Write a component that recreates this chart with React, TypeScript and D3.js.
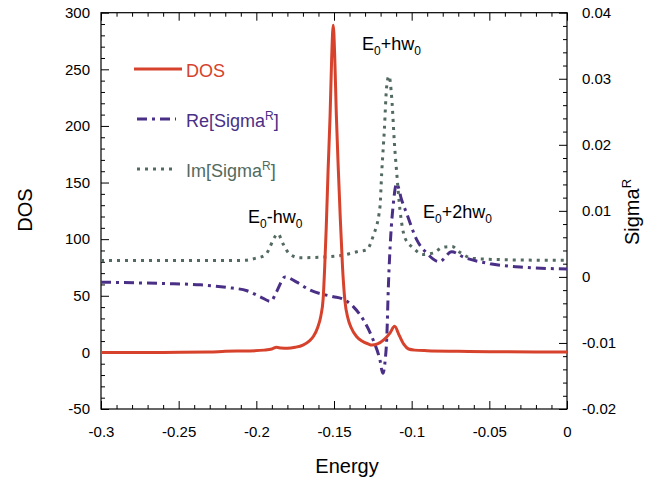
import React, { useEffect, useRef } from 'react';
import * as d3 from 'd3';

// DOS (left axis)
const dosEnergy = [-0.3, -0.26, -0.23, -0.22, -0.205, -0.195, -0.19, -0.187, -0.184, -0.18, -0.175, -0.17, -0.166, -0.1633, -0.1605, -0.1585, -0.157, -0.156, -0.155, -0.1538, -0.1525, -0.1515, -0.1505, -0.1495, -0.1485, -0.1472, -0.146, -0.1445, -0.143, -0.141, -0.139, -0.1355, -0.132, -0.128, -0.1257, -0.122, -0.118, -0.114, -0.111, -0.108, -0.105, -0.102, -0.098, -0.09, -0.07, -0.05, -0.02, 0];
const dosValues = [0, 0, 0.3, 1, 1.3, 2, 3, 4.5, 3.8, 3.6, 4.5, 6.5, 10, 14, 22, 32, 47, 75, 110, 161, 210, 260, 289, 260, 210, 161, 120, 75, 46, 30, 22, 14, 10, 7.5, 6.5, 7.5, 11, 17, 23, 15, 7, 3, 2, 1.5, 1, 0.6, 0.3, 0.3];

// Re[Sigma^R] (right axis)
const reEnergy = [-0.3, -0.26, -0.236, -0.219, -0.206, -0.1976, -0.1907, -0.1869, -0.1815, -0.174, -0.1654, -0.1504, -0.145, -0.1376, -0.1311, -0.1247, -0.1204, -0.1186, -0.117, -0.116, -0.115, -0.1135, -0.1118, -0.1097, -0.1064, -0.1032, -0.0967, -0.0903, -0.0822, -0.0742, -0.0667, -0.0495, -0.0302, 0];
const reValues = [-0.0008, -0.001, -0.0012, -0.0016, -0.0021, -0.003, -0.0037, -0.0022, 0.0, -0.0008, -0.002, -0.003, -0.0033, -0.0045, -0.0065, -0.0096, -0.0126, -0.0146, -0.0125, -0.0091, -0.0015, 0.0061, 0.0111, 0.0141, 0.0116, 0.0096, 0.0056, 0.0036, 0.0023, 0.0038, 0.003, 0.002, 0.0015, 0.0012];

// Im[Sigma^R] (right axis)
const imEnergy = [-0.3, -0.2086, -0.2008, -0.1944, -0.186, -0.183, -0.1783, -0.1719, -0.157, -0.1442, -0.1352, -0.129, -0.1249, -0.1204, -0.1193, -0.1176, -0.1161, -0.1146, -0.1128, -0.1111, -0.1096, -0.1075, -0.1043, -0.0991, -0.0927, -0.0862, -0.0798, -0.074, -0.0689, -0.0605, -0.04, 0];
const imValues = [0.0025, 0.0025, 0.0028, 0.0033, 0.0065, 0.0051, 0.0034, 0.0029, 0.003, 0.0033, 0.0038, 0.0041, 0.0061, 0.0106, 0.0157, 0.0222, 0.0288, 0.0304, 0.027, 0.0202, 0.0157, 0.0101, 0.0059, 0.0044, 0.0034, 0.0036, 0.0045, 0.0046, 0.0037, 0.0028, 0.0026, 0.0025];

const energyTicks = [-0.3, -0.25, -0.2, -0.15, -0.1, -0.05, 0];
const dosTicks = [-50, 0, 50, 100, 150, 200, 250, 300];
const sigmaTicks = [-0.02, -0.01, 0, 0.01, 0.02, 0.03, 0.04];

const RED = '#d6422c';
const PURPLE = '#4a2f86';
const GRAY = '#536a60';
const FONT = 'Liberation Sans, Arial, sans-serif';

const App = () => {
  const svgRef = useRef<SVGSVGElement>(null);

  useEffect(() => {
    const svg = d3.select(svgRef.current);
    svg.selectAll('*').remove();

    const left = 101, right = 567, top = 12.7, bottom = 409;
    const x = d3.scaleLinear().domain([-0.3, 0]).range([left, right]);
    const yL = d3.scaleLinear().domain([-50, 300]).range([bottom, top]);
    const yR = d3.scaleLinear().domain([-0.02, 0.04]).range([bottom, top]);

    const minorX = d3.range(0, 31).map(i => -0.3 + i * 0.01).filter((_, i) => i % 5 !== 0);
    const minorL = d3.range(0, 36).map(i => -50 + i * 10).filter((_, i) => i % 5 !== 0);
    const minorR = d3.range(0, 31).map(i => -0.02 + i * 0.002).filter((_, i) => i % 5 !== 0);

    const styleAxis = (g: any, size = 15) => {
      g.select('.domain').remove();
      g.selectAll('line').attr('stroke', '#000');
      g.selectAll('text').attr('font-family', FONT).attr('font-size', size).attr('fill', '#000');
    };

    // major axes
    svg.append('g').attr('transform', `translate(0,${bottom})`)
      .call(d3.axisBottom(x).tickValues(energyTicks).tickSizeInner(-8).tickSizeOuter(0).tickPadding(17).tickFormat(d => String(d)))
      .call(styleAxis);
    svg.append('g').attr('transform', `translate(0,${top})`)
      .call(d3.axisTop(x).tickValues(energyTicks).tickSizeInner(-8).tickSizeOuter(0).tickFormat(() => ''))
      .call(styleAxis);
    svg.append('g').attr('transform', `translate(${left},0)`)
      .call(d3.axisLeft(yL).tickValues(dosTicks).tickSizeInner(-8).tickSizeOuter(0).tickPadding(11).tickFormat(d => String(d)))
      .call(styleAxis);
    svg.append('g').attr('transform', `translate(${right},0)`)
      .call(d3.axisRight(yR).tickValues(sigmaTicks).tickSizeInner(-8).tickSizeOuter(0).tickPadding(15).tickFormat(d => String(d)))
      .call(styleAxis);

    // minor ticks
    svg.append('g').attr('transform', `translate(0,${bottom})`)
      .call(d3.axisBottom(x).tickValues(minorX).tickSizeInner(-4).tickSizeOuter(0).tickFormat(() => ''))
      .call(styleAxis);
    svg.append('g').attr('transform', `translate(0,${top})`)
      .call(d3.axisTop(x).tickValues(minorX).tickSizeInner(-4).tickSizeOuter(0).tickFormat(() => ''))
      .call(styleAxis);
    svg.append('g').attr('transform', `translate(${left},0)`)
      .call(d3.axisLeft(yL).tickValues(minorL).tickSizeInner(-4).tickSizeOuter(0).tickFormat(() => ''))
      .call(styleAxis);
    svg.append('g').attr('transform', `translate(${right},0)`)
      .call(d3.axisRight(yR).tickValues(minorR).tickSizeInner(-4).tickSizeOuter(0).tickFormat(() => ''))
      .call(styleAxis);

    svg.append('rect')
      .attr('x', left).attr('y', top)
      .attr('width', right - left).attr('height', bottom - top)
      .attr('fill', 'none').attr('stroke', '#000').attr('stroke-width', 1.2);

    // series
    const imLine = d3.line<number>().x((_, i) => x(imEnergy[i])).y(d => yR(d)).curve(d3.curveMonotoneX);
    const reLine = d3.line<number>().x((_, i) => x(reEnergy[i])).y(d => yR(d)).curve(d3.curveMonotoneX);
    const dosLine = d3.line<number>().x((_, i) => x(dosEnergy[i])).y(d => yL(d)).curve(d3.curveMonotoneX);

    svg.append('path').attr('d', imLine(imValues))
      .attr('fill', 'none').attr('stroke', GRAY).attr('stroke-width', 3).attr('stroke-dasharray', '3,5');
    svg.append('path').attr('d', reLine(reValues))
      .attr('fill', 'none').attr('stroke', PURPLE).attr('stroke-width', 3).attr('stroke-dasharray', '10,5,3,5');
    svg.append('path').attr('d', dosLine(dosValues))
      .attr('fill', 'none').attr('stroke', RED).attr('stroke-width', 3);

    // legend
    const legend = [
      { label: 'DOS', sup: '', color: RED, dash: null, y: 69 },
      { label: 'Re[Sigma', sup: 'R', color: PURPLE, dash: '10,5,3,5', y: 119 },
      { label: 'Im[Sigma', sup: 'R', color: GRAY, dash: '3,5', y: 169 },
    ];
    legend.forEach(l => {
      svg.append('line').attr('x1', l.label === 'DOS' ? 134 : 137).attr('x2', l.label === 'DOS' ? 182 : 176)
        .attr('y1', l.y).attr('y2', l.y)
        .attr('stroke', l.color).attr('stroke-width', 3)
        .attr('stroke-dasharray', l.dash);
      const t = svg.append('text').attr('x', 186).attr('y', l.y + 8)
        .attr('font-family', FONT).attr('font-size', 18).attr('fill', l.color);
      t.append('tspan').text(l.label);
      if (l.sup) {
        t.append('tspan').attr('font-size', 12).attr('dy', -7).text(l.sup);
        t.append('tspan').attr('dy', 7).text(']');
      }
    });

    // annotations
    const annot = [
      { x: 362, y: 50, parts: ['E', '0', '+hw', '0'] },
      { x: 248, y: 223, parts: ['E', '0', '-hw', '0'] },
      { x: 423, y: 218, parts: ['E', '0', '+2hw', '0'] },
    ];
    annot.forEach(a => {
      const t = svg.append('text').attr('x', a.x).attr('y', a.y)
        .attr('font-family', FONT).attr('font-size', 18).attr('fill', '#000');
      a.parts.forEach((p, i) => {
        if (i % 2 === 1) t.append('tspan').attr('font-size', 12).attr('dy', 5).text(p);
        else t.append('tspan').attr('dy', i === 0 ? 0 : -5).text(p);
      });
    });

    // axis titles
    svg.append('text').attr('x', 347).attr('y', 473).attr('text-anchor', 'middle')
      .attr('font-family', FONT).attr('font-size', 20).text('Energy');
    svg.append('text').attr('transform', 'translate(32,210) rotate(-90)').attr('text-anchor', 'middle')
      .attr('font-family', FONT).attr('font-size', 20).text('DOS');
    const st = svg.append('text').attr('transform', 'translate(639,212) rotate(-90)').attr('text-anchor', 'middle')
      .attr('font-family', FONT).attr('font-size', 20);
    st.append('tspan').text('Sigma');
    st.append('tspan').attr('font-size', 13).attr('dy', -8).text('R');
  }, []);

  return <svg ref={svgRef} width={665} height={483} style={{ position: 'absolute', left: 0, top: 0, background: '#fff' }} />;
};

export default App;
